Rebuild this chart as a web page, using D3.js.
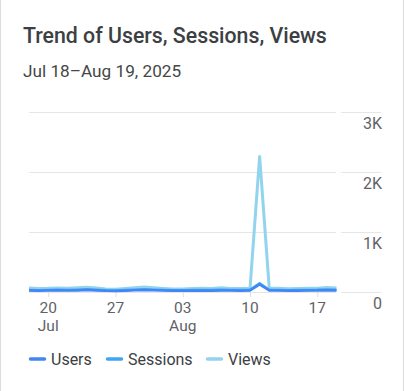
<!DOCTYPE html>
<html>
<head>
<meta charset="utf-8">
<script src="https://cdn.jsdelivr.net/npm/d3@7"></script>
<style>
  body { margin: 0; background: #fff; }
  svg { display: block; font-family: Roboto, "Noto Sans", sans-serif; }
</style>
</head>
<body>
<div id="chart"></div>
<script>
// daily values, Jul 18 .. Aug 19 2025
var startDate = "2025-07-18";
var users    = [24, 22, 25, 28, 24, 27, 32, 26, 20, 18, 22, 28, 34, 28, 23, 20, 19, 22, 25, 22, 27, 23, 22, 24, 125, 26, 24, 21, 22, 24, 25, 30, 27];
var sessions = [34, 31, 35, 38, 34, 38, 44, 37, 29, 26, 32, 39, 46, 39, 33, 29, 28, 32, 35, 32, 38, 33, 32, 35, 145, 37, 34, 30, 32, 35, 36, 42, 38];
var views    = [65, 60, 62, 68, 64, 70, 78, 66, 52, 45, 58, 70, 82, 70, 60, 52, 50, 58, 62, 58, 70, 60, 58, 62, 2260, 68, 62, 55, 58, 62, 64, 75, 68];
var yTicks = [0, 1000, 2000, 3000];
var yTickLabels = ["0", "1K", "2K", "3K"];
var xTickDates = ["2025-07-20", "2025-07-27", "2025-08-03", "2025-08-10", "2025-08-17"];
var xTickDays = ["20", "27", "03", "10", "17"];
var xTickMonths = ["Jul", "", "Aug", "", ""];
var seriesNames = ["Users", "Sessions", "Views"];
var seriesColors = ["#4285f4", "#3fa5f5", "#92d4ee"];

var W = 405, H = 391;
var parse = d3.timeParse("%Y-%m-%d");
var t0 = parse(startDate);
var dates = views.map(function(d, i) { return d3.timeDay.offset(t0, i); });

var svg = d3.select("#chart").append("svg")
    .attr("width", W)
    .attr("height", H);

svg.append("rect").attr("width", W).attr("height", H).attr("fill", "#fff");

// card edges
svg.append("line").attr("x1", 0.5).attr("x2", 0.5).attr("y1", 0).attr("y2", H)
    .attr("stroke", "#dadce0");
svg.append("line").attr("x1", 403.5).attr("x2", 403.5).attr("y1", 0).attr("y2", H)
    .attr("stroke", "#dadce0");

svg.append("text")
    .attr("x", 23).attr("y", 43)
    .attr("font-size", 21.3).attr("font-weight", 500)
    .attr("fill", "#3c4043")
    .text("Trend of Users, Sessions, Views");

svg.append("text")
    .attr("x", 23).attr("y", 77)
    .attr("font-size", 17.2)
    .attr("fill", "#444746")
    .text("Jul 18\u2013Aug 19, 2025");

var xScale = d3.scaleTime()
    .domain([dates[0], dates[dates.length - 1]])
    .range([29, 336.5]);

var yScale = d3.scaleLinear()
    .domain([0, 3000])
    .range([292, 112]);

// gridlines, split into plot part and axis part
var grid = svg.append("g");
yTicks.forEach(function(v) {
    var y = Math.round(yScale(v)) + 0.5;
    grid.append("line").attr("x1", 29).attr("x2", 336).attr("y1", y).attr("y2", y)
        .attr("stroke", "#e6e6e6");
    grid.append("line").attr("x1", 341).attr("x2", 381).attr("y1", y).attr("y2", y)
        .attr("stroke", "#e6e6e6");
});

// y labels on the right
svg.append("g").selectAll("text")
    .data(yTicks)
    .enter().append("text")
    .attr("x", 382)
    .attr("y", function(d) { return yScale(d) + 17; })
    .attr("text-anchor", "end")
    .attr("font-size", 16)
    .attr("fill", "#5f6368")
    .text(function(d, i) { return yTickLabels[i]; });

// x axis: ticks only, labels are two-line (day / month)
var xTicks = xTickDates.map(parse);
var xAxis = svg.append("g")
    .attr("transform", "translate(0,292)")
    .call(d3.axisBottom(xScale).tickValues(xTicks).tickSize(5).tickFormat(""));
xAxis.select(".domain").remove();
xAxis.selectAll(".tick line").attr("stroke", "#e0e0e0");

var xLabels = svg.append("g").selectAll("text")
    .data(xTicks)
    .enter().append("text")
    .attr("text-anchor", "middle")
    .attr("font-size", 15.5)
    .attr("fill", "#5f6368");
xLabels.append("tspan")
    .attr("x", function(d) { return xScale(d); })
    .attr("y", 312.5)
    .text(function(d, i) { return xTickDays[i]; });
xLabels.filter(function(d, i) { return xTickMonths[i] !== ""; })
    .append("tspan")
    .attr("x", function(d) { return xScale(d); })
    .attr("y", 330.5)
    .text(function(d) { return xTickMonths[xTicks.indexOf(d)]; });

var valueLine = d3.line()
    .x(function(d, i) { return xScale(dates[i]); })
    .y(function(d) { return yScale(d); })
    .curve(d3.curveLinear);

var allSeries = [users, sessions, views];
// draw views first so users/sessions sit on top
[2, 1, 0].forEach(function(k) {
    svg.append("path")
        .datum(allSeries[k])
        .attr("d", valueLine)
        .attr("fill", "none")
        .attr("stroke", seriesColors[k])
        .attr("stroke-width", k === 2 ? 3 : 2.5)
        .attr("stroke-linejoin", "round");
});

// legend
var legendX = [29, 106, 206];
var legend = svg.append("g");
seriesNames.forEach(function(name, i) {
    legend.append("line")
        .attr("x1", legendX[i] + 1.5).attr("x2", legendX[i] + 15.5)
        .attr("y1", 359).attr("y2", 359)
        .attr("stroke", seriesColors[i])
        .attr("stroke-width", 3.5)
        .attr("stroke-linecap", "round");
    legend.append("text")
        .attr("x", legendX[i] + 22)
        .attr("y", 365)
        .attr("font-size", 16)
        .attr("fill", "#3c4043")
        .text(name);
});
</script>
</body>
</html>
